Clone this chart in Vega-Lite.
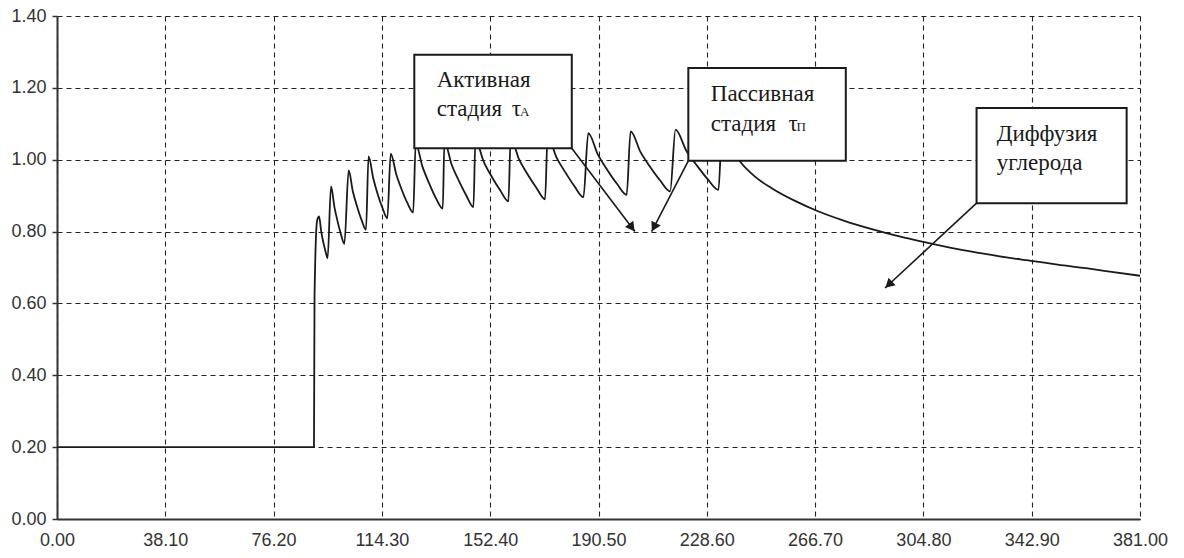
{
  "$schema": "https://vega.github.io/schema/vega-lite/v6.json",
  "width": 1083,
  "height": 503,
  "autosize": {"type": "none"},
  "padding": {"left": 57, "top": 16, "right": 44, "bottom": 39},
  "background": "white",
  "config": {"view": {"stroke": null}},
  "datasets": {
    "curve": [
      {"x": 0, "y": 0.2}, {"x": 90.4, "y": 0.2}, {"x": 90.6, "y": 0.62}, {"x": 91.5, "y": 0.83}, {"x": 92.2, "y": 0.842},
      {"x": 92.95, "y": 0.8}, {"x": 93.7, "y": 0.77}, {"x": 94.45, "y": 0.745}, {"x": 95.2, "y": 0.726},
      {"x": 96.4, "y": 0.926}, {"x": 97.6, "y": 0.868}, {"x": 98.75, "y": 0.827}, {"x": 99.9, "y": 0.792}, {"x": 101.1, "y": 0.766},
      {"x": 102.6, "y": 0.97}, {"x": 104.1, "y": 0.911}, {"x": 105.65, "y": 0.868}, {"x": 107.2, "y": 0.831}, {"x": 108.7, "y": 0.805},
      {"x": 109.6, "y": 1.009}, {"x": 111.3, "y": 0.947}, {"x": 112.9, "y": 0.902}, {"x": 114.55, "y": 0.865}, {"x": 116.2, "y": 0.837},
      {"x": 117.4, "y": 1.017}, {"x": 119.4, "y": 0.958}, {"x": 121.35, "y": 0.915}, {"x": 123.3, "y": 0.879}, {"x": 125.3, "y": 0.853},
      {"x": 126.2, "y": 1.045}, {"x": 128.6, "y": 0.98}, {"x": 131.0, "y": 0.933}, {"x": 133.3, "y": 0.893}, {"x": 135.7, "y": 0.864},
      {"x": 136.3, "y": 1.05}, {"x": 138.85, "y": 0.986}, {"x": 141.4, "y": 0.941}, {"x": 143.95, "y": 0.901}, {"x": 146.5, "y": 0.868},
      {"x": 147.2, "y": 1.055}, {"x": 150.1, "y": 0.995}, {"x": 153.0, "y": 0.952}, {"x": 155.9, "y": 0.915}, {"x": 158.8, "y": 0.884},
      {"x": 159.6, "y": 1.06}, {"x": 162.6, "y": 1.0}, {"x": 165.65, "y": 0.958}, {"x": 168.7, "y": 0.921}, {"x": 171.7, "y": 0.89},
      {"x": 172.6, "y": 1.065}, {"x": 175.75, "y": 1.006}, {"x": 178.9, "y": 0.964}, {"x": 182.05, "y": 0.926}, {"x": 185.2, "y": 0.896},
      {"x": 186.9, "y": 1.074}, {"x": 190.3, "y": 1.014}, {"x": 193.65, "y": 0.971}, {"x": 197.0, "y": 0.933}, {"x": 200.4, "y": 0.902},
      {"x": 201.8, "y": 1.079}, {"x": 205.3, "y": 1.021}, {"x": 208.75, "y": 0.979}, {"x": 212.2, "y": 0.942}, {"x": 215.7, "y": 0.912},
      {"x": 217.6, "y": 1.084}, {"x": 221.4, "y": 1.025}, {"x": 225.2, "y": 0.983}, {"x": 228.9, "y": 0.946}, {"x": 232.7, "y": 0.916},
      {"x": 234.0, "y": 1.09}, {"x": 237.0, "y": 1.035}, {"x": 240.3, "y": 0.995}, {"x": 246.0, "y": 0.95}, {"x": 252.0, "y": 0.918},
      {"x": 260.0, "y": 0.884}, {"x": 267.3, "y": 0.858}, {"x": 277.0, "y": 0.83}, {"x": 287.0, "y": 0.806}, {"x": 296.0, "y": 0.787},
      {"x": 306.0, "y": 0.769}, {"x": 315.0, "y": 0.754}, {"x": 325.0, "y": 0.74}, {"x": 334.0, "y": 0.728}, {"x": 343.4, "y": 0.718},
      {"x": 352.0, "y": 0.708}, {"x": 362.0, "y": 0.698}, {"x": 371.0, "y": 0.688}, {"x": 381.0, "y": 0.677}
    ],
    "boxes": [
      {"x": 125.7, "x2": 181.1, "y": 1.292, "y2": 1.032},
      {"x": 222.1, "x2": 277.5, "y": 1.2554, "y2": 0.997},
      {"x": 323.5, "x2": 376.3, "y": 1.144, "y2": 0.879}
    ],
    "arrows": [
      {"id": "a1", "x": 181.1, "y": 1.032, "x2": 203.3, "y2": 0.8},
      {"id": "a2", "x": 222.1, "y": 0.997, "x2": 209.2, "y2": 0.8},
      {"id": "a3", "x": 323.5, "y": 0.879, "x2": 291.3, "y2": 0.643}
    ],
    "labels": [
      {"text": "Активная", "x": 133.6, "y": 1.2025},
      {"text": "стадия", "x": 133.6, "y": 1.1226},
      {"text": "τ", "x": 160.0, "y": 1.1226},
      {"text": "Пассивная", "x": 230.0, "y": 1.1624},
      {"text": "стадия", "x": 230.0, "y": 1.0788},
      {"text": "τ", "x": 257.3, "y": 1.0788},
      {"text": "Диффузия", "x": 330.6, "y": 1.051},
      {"text": "углерода", "x": 330.6, "y": 0.9721}
    ],
    "subs": [
      {"text": "A", "x": 162.9, "y": 1.1226},
      {"text": "П", "x": 260.2, "y": 1.0788}
    ]
  },
  "encoding": {
    "x": {
      "field": "x", "type": "quantitative",
      "scale": {"domain": [0, 381], "nice": false, "zero": false},
      "axis": {
        "title": null,
        "values": [0, 38.1, 76.2, 114.3, 152.4, 190.5, 228.6, 266.7, 304.8, 342.9, 381],
        "format": ".2f",
        "grid": true, "gridDash": [5, 4], "gridColor": "#222", "gridWidth": 1.1, "gridOpacity": 1,
        "domainColor": "#333", "domainWidth": 2,
        "ticks": false, "labelPadding": 12,
        "labelFont": "Liberation Sans", "labelFontSize": 18, "labelColor": "#333",
        "labelFlush": false, "labelOverlap": false
      }
    },
    "y": {
      "field": "y", "type": "quantitative",
      "scale": {"domain": [0, 1.4], "nice": false, "zero": false},
      "axis": {
        "title": null,
        "values": [0, 0.2, 0.4, 0.6, 0.8, 1.0, 1.2, 1.4],
        "format": ".2f",
        "grid": true, "gridDash": [5, 4], "gridColor": "#222", "gridWidth": 1.1, "gridOpacity": 1,
        "domainColor": "#333", "domainWidth": 2,
        "ticks": true, "tickSize": 5, "tickColor": "#333", "tickWidth": 1.5,
        "labelPadding": 6,
        "labelFont": "Liberation Sans", "labelFontSize": 18, "labelColor": "#333",
        "labelFlush": false, "labelOverlap": false
      }
    }
  },
  "layer": [
    {
      "data": {"name": "curve"},
      "mark": {"type": "line", "color": "#1a1a1a", "strokeWidth": 1.8, "interpolate": "monotone"}
    },
    {
      "data": {"name": "boxes"},
      "mark": {"type": "rect", "fill": "white", "stroke": "#1a1a1a", "strokeWidth": 2},
      "encoding": {"x2": {"field": "x2"}, "y2": {"field": "y2"}}
    },
    {
      "data": {"name": "arrows"},
      "mark": {"type": "rule", "color": "#1a1a1a", "strokeWidth": 1.6},
      "encoding": {"x2": {"field": "x2"}, "y2": {"field": "y2"}}
    },
    {
      "data": {"name": "arrows"},
      "transform": [{"filter": "datum.id === 'a1'"}],
      "mark": {"type": "point", "shape": "triangle-up", "filled": true, "color": "#1a1a1a", "size": 110, "opacity": 1, "angle": 142.8, "xOffset": -3, "yOffset": -4},
      "encoding": {"x": {"field": "x2", "type": "quantitative"}, "y": {"field": "y2", "type": "quantitative"}}
    },
    {
      "data": {"name": "arrows"},
      "transform": [{"filter": "datum.id === 'a2'"}],
      "mark": {"type": "point", "shape": "triangle-up", "filled": true, "color": "#1a1a1a", "size": 110, "opacity": 1, "angle": 207.6, "xOffset": 2.3, "yOffset": -4.4},
      "encoding": {"x": {"field": "x2", "type": "quantitative"}, "y": {"field": "y2", "type": "quantitative"}}
    },
    {
      "data": {"name": "arrows"},
      "transform": [{"filter": "datum.id === 'a3'"}],
      "mark": {"type": "point", "shape": "triangle-up", "filled": true, "color": "#1a1a1a", "size": 110, "opacity": 1, "angle": 227.2, "xOffset": 3.7, "yOffset": -3.4},
      "encoding": {"x": {"field": "x2", "type": "quantitative"}, "y": {"field": "y2", "type": "quantitative"}}
    },
    {
      "data": {"name": "labels"},
      "mark": {"type": "text", "align": "left", "baseline": "alphabetic", "font": "Liberation Serif", "fontSize": 23, "color": "#1a1a1a"},
      "encoding": {"text": {"field": "text"}}
    },
    {
      "data": {"name": "subs"},
      "mark": {"type": "text", "align": "left", "baseline": "alphabetic", "font": "Liberation Serif", "fontSize": 13, "color": "#1a1a1a"},
      "encoding": {"text": {"field": "text"}}
    }
  ]
}
